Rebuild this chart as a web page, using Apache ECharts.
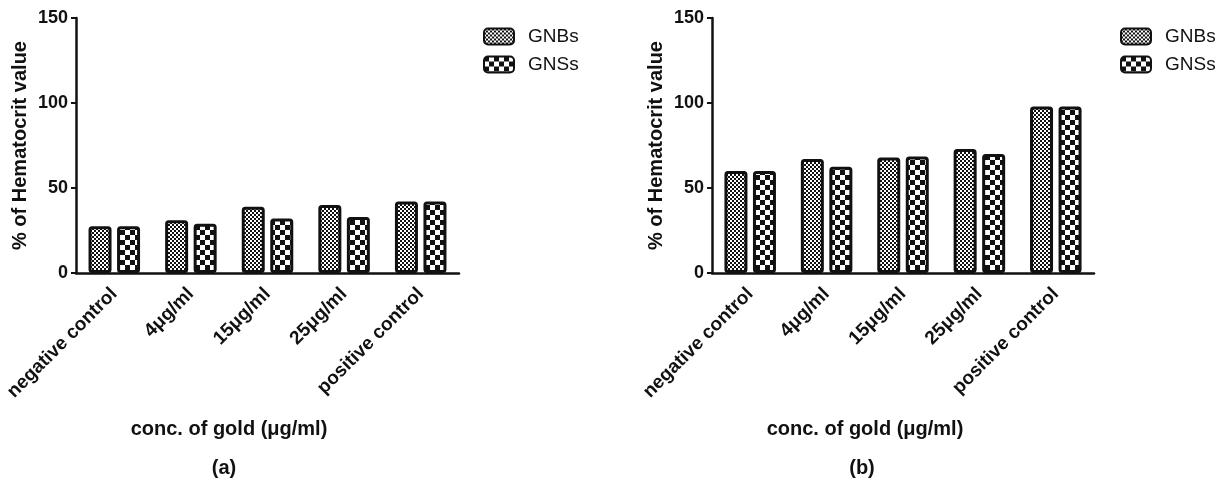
<!DOCTYPE html>
<html>
<head>
<meta charset="utf-8">
<script src="https://cdn.jsdelivr.net/npm/echarts@6/dist/echarts.min.js"></script>
<style>
  html, body { margin: 0; padding: 0; background: #fff; }
  #main { width: 1231px; height: 487px; }
</style>
</head>
<body>
<div id="main"></div>
<script>
'use strict';

var categories = ['negative control', '4\u03bcg/ml', '15\u03bcg/ml', '25\u03bcg/ml', 'positive control'];
var yTicks = [0, 50, 100, 150];

// panel (a)
var gnbA = [27.5, 31, 39, 40, 42];
var gnsA = [27.5, 29, 32, 33, 42];
// panel (b)
var gnbB = [60, 67, 68, 73, 98];
var gnsB = [60, 62.5, 68.5, 70, 98];

var FONT = 'Liberation Sans, Arial, sans-serif';

//棋盘格填充
function checker(cell) {
    var c = document.createElement('canvas');
    c.width = c.height = cell * 2;
    var ctx = c.getContext('2d');
    ctx.fillStyle = '#fff';
    ctx.fillRect(0, 0, cell * 2, cell * 2);
    ctx.fillStyle = '#111';
    ctx.fillRect(0, 0, cell, cell);
    ctx.fillRect(cell, cell, cell, cell);
    return c;
}
var fineFill = {image: checker(2), repeat: 'repeat'};
var coarseFill = {image: checker(5), repeat: 'repeat'};

var chart = echarts.init(document.getElementById('main'));

function barStyle(fill) {
    return {color: fill, borderColor: '#111', borderWidth: 3, borderRadius: 2};
}

function xAxis(idx) {
    return {
        type: 'category', gridIndex: idx, data: categories,
        axisLine: {lineStyle: {color: '#111', width: 2.5}},
        axisTick: {alignWithLabel: true, length: 6, lineStyle: {color: '#111', width: 2}},
        axisLabel: {rotate: 45, margin: 18, color: '#111', fontWeight: 'bold', fontSize: 19, fontFamily: FONT}
    };
}

function yAxis(idx) {
    return {
        type: 'value', gridIndex: idx, min: yTicks[0], max: yTicks[yTicks.length - 1], interval: 50,
        name: '% of Hematocrit value', nameLocation: 'middle', nameGap: 46,
        nameTextStyle: {color: '#111', fontWeight: 'bold', fontSize: 20, fontFamily: FONT},
        splitLine: {show: false},
        axisLine: {show: true, lineStyle: {color: '#111', width: 2.5}},
        axisTick: {show: true, length: 5, lineStyle: {color: '#111', width: 2}},
        axisLabel: {margin: 8, color: '#111', fontWeight: 'bold', fontSize: 18, fontFamily: FONT}
    };
}

function legend(left) {
    return {
        left: left, top: 22, orient: 'vertical', itemWidth: 30, itemHeight: 16, itemGap: 9,
        icon: 'roundRect', data: ['GNBs', 'GNSs'],
        textStyle: {color: '#111', fontSize: 19, fontFamily: FONT, padding: [0, 0, 0, 9]}
    };
}

function bars(name, data, fill, idx) {
    return {
        name: name, type: 'bar', xAxisIndex: idx, yAxisIndex: idx, data: data,
        barWidth: 23, barGap: '24%', itemStyle: barStyle(fill)
    };
}

function label(text, x, y) {
    return {
        type: 'text', x: x, y: y,
        style: {text: text, fill: '#111', font: 'bold 20px ' + FONT, align: 'center', verticalAlign: 'middle'}
    };
}

chart.setOption({
    animation: false,
    grid: [
        {left: 76, top: 18, width: 383, height: 255},
        {left: 712, top: 18, width: 382, height: 255}
    ],
    legend: [legend(478), legend(1115)],
    xAxis: [xAxis(0), xAxis(1)],
    yAxis: [yAxis(0), yAxis(1)],
    series: [
        bars('GNBs', gnbA, fineFill, 0),
        bars('GNSs', gnsA, coarseFill, 0),
        bars('GNBs', gnbB, fineFill, 1),
        bars('GNSs', gnsB, coarseFill, 1)
    ],
    graphic: [
        label('conc. of gold (\u03bcg/ml)', 229, 429),
        label('(a)', 224, 468),
        label('conc. of gold (\u03bcg/ml)', 865, 429),
        label('(b)', 862, 468)
    ]
});
</script>
</body>
</html>
